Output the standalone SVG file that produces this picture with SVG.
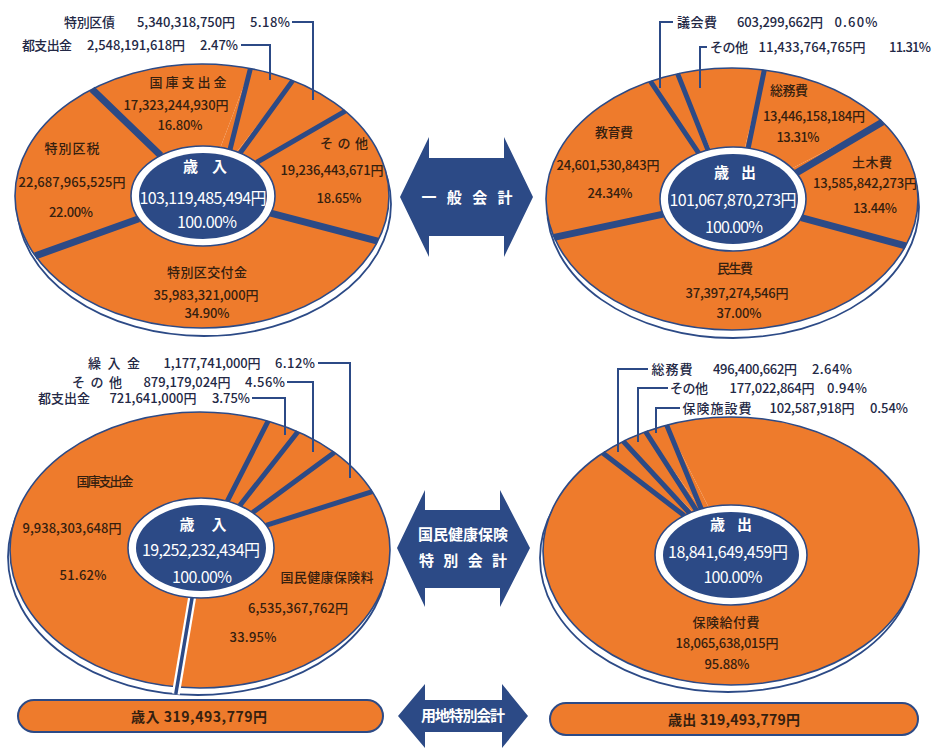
<svg xmlns="http://www.w3.org/2000/svg" width="935" height="752" viewBox="0 0 935 752">
<style>
.rim{fill:#fff;stroke:#2c4a86;stroke-width:1.8}
.sl{fill:#ee7b2c}
.ol{fill:none;stroke:#2c4a86;stroke-width:1.6}
.sep{fill:none;stroke:#2c4a86;stroke-width:7}
.sep5{fill:none;stroke:#2c4a86;stroke-width:5}
.ring{fill:#fff;stroke:#2c4a86;stroke-width:1.6}
.core{fill:#2c4a86}
.ld{fill:none;stroke:#2c4a86;stroke-width:2}
.ar{fill:#2c4a86}
text{font-family:"Noto Sans CJK JP","Noto Sans",sans-serif;text-anchor:middle}
.t{font-size:13px;fill:#35200f;font-weight:500}
.k{font-size:13px;fill:#232845;font-weight:500}
.c{font-size:16px;fill:#fff}
.h{font-size:15px;fill:#fff;font-weight:bold}
.bar{fill:#ee7b2c;stroke:#2c4a86;stroke-width:2}
.bt{font-size:14px;fill:#35200f;font-weight:bold}
</style>
<rect width="935" height="752" fill="#fff"/>

<!-- ===== Top-left: 一般会計 歳入 ===== -->
<g id="tl">
<ellipse class="rim" cx="204" cy="204" rx="187" ry="132"/>
<g id="tl-sonota"><path class="sl" d="M202 196 L345.2 111.2 A187 132 0 0 1 377.7 241.1 Z"/>
<text class="t" x="344" y="148" textLength="48">そ の 他</text>
<text class="t" x="332" y="175" textLength="103">19,236,443,671円</text>
<text class="t" x="339" y="203" textLength="45">18.65%</text></g>
<g id="tl-koufukin"><path class="sl" d="M202 196 L377.7 241.1 A187 132 0 0 1 35.4 255.9 Z"/>
<text class="t" x="207" y="277" textLength="80">特別区交付金</text>
<text class="t" x="206" y="300" textLength="105">35,983,321,000円</text>
<text class="t" x="207" y="318" textLength="45">34.90%</text></g>
<g id="tl-kuzei"><path class="sl" d="M202 196 L35.4 255.9 A187 132 0 0 1 92.1 89.2 Z"/>
<text class="t" x="72" y="153" textLength="55">特別区税</text>
<text class="t" x="72" y="187" textLength="107">22,687,965,525円</text>
<text class="t" x="71" y="217" textLength="44">22.00%</text></g>
<g id="tl-kokko"><path class="sl" d="M202 196 L92.1 89.2 A187 132 0 0 1 250.4 68.5 Z"/>
<text class="t" x="188" y="87" textLength="77">国庫支出金</text>
<text class="t" x="176" y="110" textLength="105">17,323,244,930円</text>
<text class="t" x="180" y="130" textLength="45">16.80%</text></g>
<g id="tl-toshishutsu"><path class="sl" d="M202 196 L250.4 68.5 A187 132 0 0 1 292.7 80.6 Z"/>
<text class="k" x="47" y="50" textLength="50">都支出金</text>
<text class="k" x="136" y="50" textLength="98">2,548,191,618円</text>
<text class="k" x="219" y="50" textLength="38">2.47%</text></g>
<g id="tl-kusai"><path class="sl" d="M202 196 L292.7 80.6 A187 132 0 0 1 345.2 111.2 Z"/>
<text class="k" x="89.5" y="27" textLength="51">特別区債</text>
<text class="k" x="186" y="27" textLength="98">5,340,318,750円</text>
<text class="k" x="270" y="27" textLength="40">5.18%</text></g>
<ellipse class="ol" cx="202" cy="196" rx="187" ry="132"/>
<path class="sep" d="M270.7 213.1 L377.7 241.1 M138.8 218.7 L35.4 255.9 M160.7 155.5 L92.1 89.2"/>
<path class="sep5" d="M230 149.6 L250.4 68.5 M240.1 153.1 L292.7 80.6 M256.5 162.5 L345.2 111.2"/>
<g id="tl-center">
<ellipse class="ring" cx="203" cy="196" rx="72" ry="50"/>
<ellipse class="core" cx="203" cy="196" rx="64" ry="43"/>
<text class="h" x="205" y="172" textLength="44">歳 入</text>
<text class="c" x="203" y="204" textLength="127">103,119,485,494円</text>
<text class="c" x="207" y="228" textLength="60">100.00%</text>
</g>
</g>

<!-- ===== Top-right: 一般会計 歳出 ===== -->
<g id="tr">
<ellipse class="rim" cx="733" cy="207" rx="186" ry="131"/>
<g id="tr-minsei"><path class="sl" d="M732 199 L905.6 245.9 A186 131 0 0 1 554.1 237.3 Z"/>
<text class="t" x="735" y="273" textLength="36">民生費</text>
<text class="t" x="737" y="298" textLength="103">37,397,274,546円</text>
<text class="t" x="739" y="318" textLength="45">37.00%</text></g>
<g id="tr-kyoiku"><path class="sl" d="M732 199 L554.1 237.3 A186 131 0 0 1 650.5 81.3 Z"/>
<text class="t" x="614" y="137" textLength="38">教育費</text>
<text class="t" x="608" y="170" textLength="103">24,601,530,843円</text>
<text class="t" x="610" y="198" textLength="45">24.34%</text></g>
<g id="tr-gikai"><path class="sl" d="M732 199 L650.5 81.3 A186 131 0 0 1 677.6 73.7 Z"/>
<text class="k" x="697" y="27" textLength="40">議会費</text>
<text class="k" x="780" y="27" textLength="86">603,299,662円</text>
<text class="k" x="856" y="27" textLength="43">0.60%</text></g>
<g id="tr-sonota"><path class="sl" d="M732 199 L677.6 73.7 A186 131 0 0 1 764.3 70 Z"/>
<text class="k" x="729" y="52" textLength="38">その他</text>
<text class="k" x="812" y="52" textLength="107">11,433,764,765円</text>
<text class="k" x="910" y="52" textLength="42">11.31%</text></g>
<g id="tr-somu"><path class="sl" d="M732 199 L764.3 70 A186 131 0 0 1 882.5 122 Z"/>
<text class="t" x="789" y="95" textLength="38">総務費</text>
<text class="t" x="814" y="121" textLength="102">13,446,158,184円</text>
<text class="t" x="798" y="142" textLength="43">13.31%</text></g>
<g id="tr-doboku"><path class="sl" d="M732 199 L882.5 122 A186 131 0 0 1 905.6 245.9 Z"/>
<text class="t" x="872" y="167" textLength="40">土木費</text>
<text class="t" x="865" y="188" textLength="104">13,585,842,273円</text>
<text class="t" x="875" y="213" textLength="44">13.44%</text></g>
<ellipse class="ol" cx="732" cy="199" rx="186" ry="131"/>
<path class="sep" d="M801.2 217.6 L905.6 245.9 M663.2 214.2 L554.1 237.3 M796.2 173 L882.5 122"/>
<path class="sep5" d="M698.7 153.1 L650.5 81.3 M708 150.1 L677.6 73.7 M748.2 148.1 L764.3 70"/>
<g id="tr-center">
<ellipse class="ring" cx="733" cy="199" rx="73" ry="52"/>
<ellipse class="core" cx="733" cy="199" rx="65" ry="45"/>
<text class="h" x="735" y="178" textLength="42">歳 出</text>
<text class="c" x="733" y="206" textLength="127">101,067,870,273円</text>
<text class="c" x="734" y="233" textLength="58">100.00%</text>
</g>
</g>

<!-- ===== Bottom-left: 国民健康保険 歳入 ===== -->
<g id="bl">
<ellipse class="rim" cx="198" cy="557" rx="190" ry="138"/>
<g id="bl-kokko"><path class="sl" d="M200 550 L176.8 687 A190 138 0 1 1 268.1 421.2 Z"/>
<text class="t" x="105" y="486" textLength="57">国庫支出金</text>
<text class="t" x="72" y="533" textLength="99">9,938,303,648円</text>
<text class="t" x="83" y="580" textLength="47">51.62%</text></g>
<g id="bl-toshishutsu"><path class="sl" d="M200 550 L268.1 421.2 A190 138 0 0 1 297.9 431.7 Z"/>
<text class="k" x="64" y="403" textLength="52">都支出金</text>
<text class="k" x="153" y="403" textLength="87">721,641,000円</text>
<text class="k" x="231" y="403" textLength="38">3.75%</text></g>
<g id="bl-sonota"><path class="sl" d="M200 550 L297.9 431.7 A190 138 0 0 1 334.3 452.4 Z"/>
<text class="k" x="97" y="387" textLength="50">そ の 他</text>
<text class="k" x="187" y="387" textLength="87">879,179,024円</text>
<text class="k" x="265" y="387" textLength="40">4.56%</text></g>
<g id="bl-kurikomi"><path class="sl" d="M200 550 L334.3 452.4 A190 138 0 0 1 372.2 491.7 Z"/>
<text class="k" x="114" y="368" textLength="52">繰 入 金</text>
<text class="k" x="212" y="368" textLength="97">1,177,741,000円</text>
<text class="k" x="295" y="368" textLength="40">6.12%</text></g>
<g id="bl-hokenryo"><path class="sl" d="M200 550 L372.2 491.7 A190 138 0 0 1 176.8 687 Z"/>
<text class="t" x="327" y="582" textLength="93">国民健康保険料</text>
<text class="t" x="298" y="613" textLength="100">6,535,367,762円</text>
<text class="t" x="253" y="642" textLength="47">33.95%</text></g>
<ellipse class="ol" cx="200" cy="550" rx="190" ry="138"/>
<path d="M192.1 597.6 L175.8 694" fill="none" stroke="#fff" stroke-width="8"/>
<path d="M192.1 597.6 L175.8 694" fill="none" stroke="#2c4a86" stroke-width="3.5"/>
<path class="sep5" d="M227.2 501.3 L268.1 421.2 M239.7 505.6 L297.9 431.7 M252.6 512.6 L334.3 452.4 M266 525.3 L372.2 491.7"/>
<g id="bl-center">
<ellipse class="ring" cx="201" cy="548" rx="73" ry="50"/>
<ellipse class="core" cx="201" cy="548" rx="65" ry="43"/>
<text class="h" x="203" y="530" textLength="47">歳 入</text>
<text class="c" x="201" y="556" textLength="118">19,252,232,434円</text>
<text class="c" x="202" y="583" textLength="60">100.00%</text>
</g>
</g>

<!-- ===== Bottom-right: 国民健康保険 歳出 ===== -->
<g id="br">
<ellipse class="rim" cx="728" cy="558" rx="188" ry="134"/>
<g id="br-kyufu"><path class="sl" d="M731 551 L666.7 425.1 A188 134 0 1 1 602.8 453 Z"/>
<text class="t" x="726" y="627" textLength="67">保険給付費</text>
<text class="t" x="727" y="648" textLength="103">18,065,638,015円</text>
<text class="t" x="727" y="669" textLength="45">95.88%</text></g>
<g id="br-somu"><path class="sl" d="M731 551 L602.8 453 A188 134 0 0 1 623.2 441.2 Z"/>
<text class="k" x="672" y="374" textLength="41">総務費</text>
<text class="k" x="755" y="374" textLength="84">496,400,662円</text>
<text class="k" x="832" y="374" textLength="40">2.64%</text></g>
<g id="br-sonota"><path class="sl" d="M731 551 L623.2 441.2 A188 134 0 0 1 645.6 431.6 Z"/>
<text class="k" x="689" y="393" textLength="38">その他</text>
<text class="k" x="772" y="393" textLength="85">177,022,864円</text>
<text class="k" x="847" y="393" textLength="40">0.94%</text></g>
<g id="br-shisetsu"><path class="sl" d="M731 551 L645.6 431.6 A188 134 0 0 1 666.7 425.1 Z"/>
<text class="k" x="717" y="413" textLength="69">保険施設費</text>
<text class="k" x="812" y="413" textLength="85">102,587,918円</text>
<text class="k" x="889" y="413" textLength="38">0.54%</text></g>
<ellipse class="ol" cx="731" cy="551" rx="188" ry="134"/>
<path class="sep5" d="M684.2 515.6 L602.8 453 M689.6 513.1 L623.2 441.2 M696.5 510.5 L645.6 431.6 M701.3 509 L666.7 425.1"/>
<g id="br-center">
<ellipse class="ring" cx="731" cy="555" rx="76" ry="50"/>
<ellipse class="core" cx="731" cy="555" rx="68" ry="43"/>
<text class="h" x="731" y="530" textLength="42">歳 出</text>
<text class="c" x="728" y="558" textLength="120">18,841,649,459円</text>
<text class="c" x="733" y="583" textLength="59">100.00%</text>
</g>
</g>

<!-- ===== Leader lines ===== -->
<g id="connectors">
<path class="ld" d="M292 22 H313 V100"/>
<path class="ld" d="M241 45 H270 V80"/>
<path class="ld" d="M673 22 H660 V88"/>
<path class="ld" d="M707 47 H700 V88"/>
<path class="ld" d="M318 363 H350 V478"/>
<path class="ld" d="M287 382 H313 V452"/>
<path class="ld" d="M252 398 H285 V435"/>
<path class="ld" d="M648 369 H618 V452"/>
<path class="ld" d="M668 388 H638 V442"/>
<path class="ld" d="M680 408 H656 V433"/>
</g>

<!-- ===== Arrows ===== -->
<g id="arrow-ippan">
<polygon class="ar" points="400,197 429,137 429,158 504,158 504,137 533,197 504,257 504,236 429,236 429,257"/>
<text class="h" x="467" y="203" textLength="91">一 般 会 計</text>
</g>
<g id="arrow-kokuho">
<polygon class="ar" points="397,548 425,490 425,510 500,510 500,490 530,548 500,607 500,588 425,588 425,607"/>
<text class="h" x="463" y="540" textLength="90">国民健康保険</text>
<text class="h" x="463" y="566" textLength="88">特 別 会 計</text>
</g>
<g id="arrow-yochi">
<polygon class="ar" points="398,716 425,684 425,700 502,700 502,684 528,716 502,748 502,732 425,732 425,748"/>
<text class="h" x="463" y="721" font-size="13" textLength="84">用地特別会計</text>
</g>

<!-- ===== Bars ===== -->
<g id="bar-in">
<rect class="bar" x="18" y="700" width="365" height="32" rx="16"/>
<text class="bt" x="199" y="722" textLength="136">歳入 319,493,779円</text>
</g>
<g id="bar-out">
<rect class="bar" x="550" y="703" width="368" height="32" rx="16"/>
<text class="bt" x="734" y="725" textLength="132">歳出 319,493,779円</text>
</g>
</svg>
